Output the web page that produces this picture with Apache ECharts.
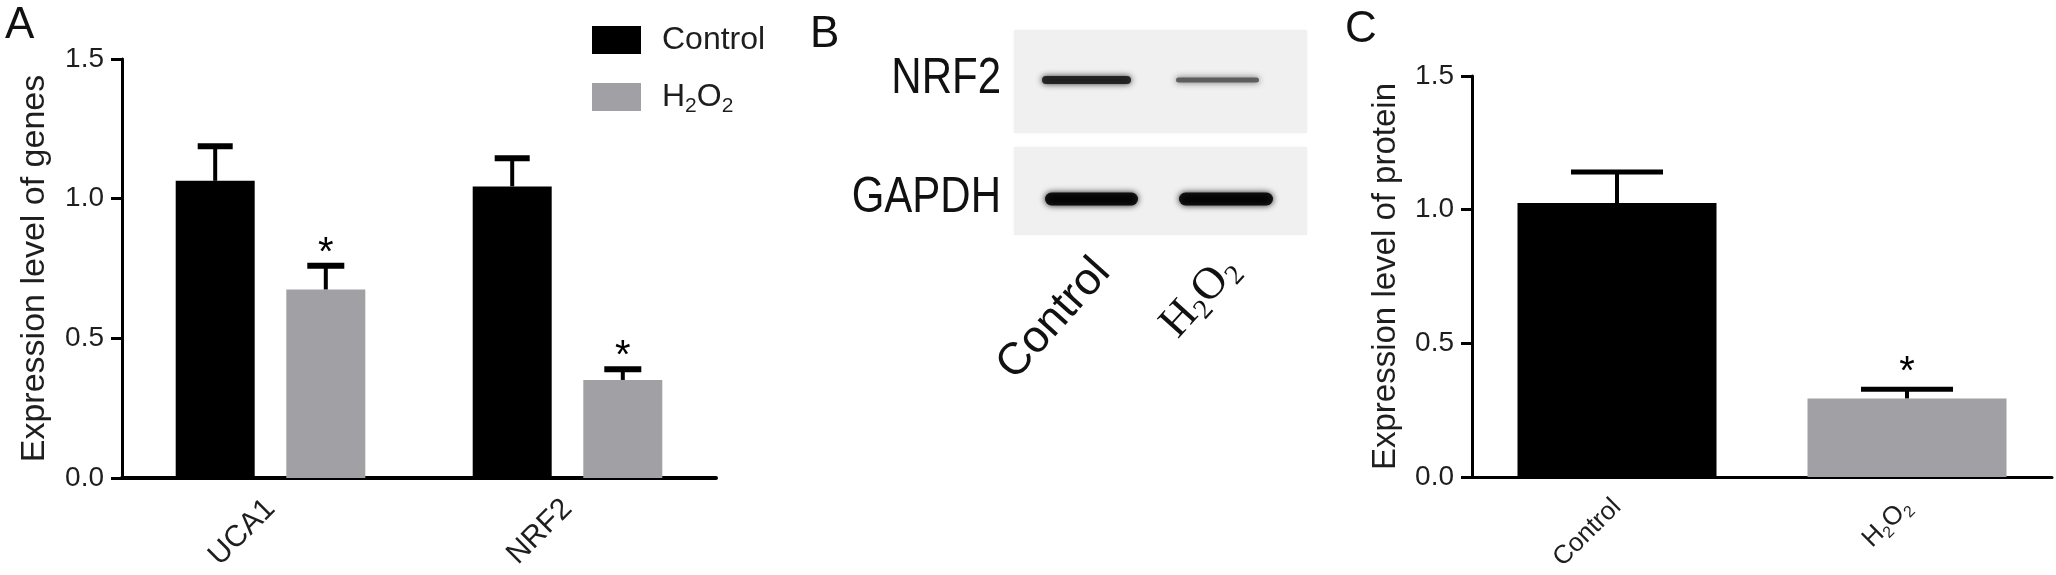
<!DOCTYPE html>
<html><head><meta charset="utf-8">
<script src="https://cdn.jsdelivr.net/npm/echarts@6/dist/echarts.min.js"></script>
<style>html,body{margin:0;padding:0;background:#fff}#c{width:2056px;height:575px}</style>
</head><body><div id="c"></div>
<script>
// ---- data ----
const geneCategories = ['UCA1', 'NRF2'];
const geneControl = [1.064, 1.044];
const geneControlErr = [0.124, 0.101];
const geneControlSig = ['', ''];
const geneH2O2 = [0.675, 0.351];
const geneH2O2Err = [0.085, 0.038];
const geneH2O2Sig = ['*', '*'];

const proteinCategories = ['Control', 'H2O2'];
const proteinValues = [1.025, 0.294];
const proteinErr = [0.116, 0.034];
const proteinSig = ['', '*'];

const yTickInterval = 0.5;
const yMax = 1.5;

const blotTargets = ['NRF2', 'GAPDH'];
const blotLanes = ['Control', 'H2O2'];
const blotIntensity = [[0.85, 0.45], [1.0, 1.0]];

// ---- styles ----
const FONT = "'Liberation Sans', Arial, Helvetica, sans-serif";
const SERIF = "'Liberation Serif', 'Times New Roman', serif";
const BLACK = '#000000';
const GRAY = '#a1a0a5';
const TXT = '#1e1e1e';

const chart = echarts.init(document.getElementById('c'), null, {renderer: 'canvas'});

function h2o2Rich(big, small) {
  return {
    a: {fontSize: big, fontFamily: FONT, color: TXT, lineHeight: big * 1.25},
    b: {fontSize: small, fontFamily: FONT, color: TXT, lineHeight: small, verticalAlign: 'bottom'}
  };
}
function fmtName(n) {
  return n === 'H2O2' ? '{a|H}{b|2}{a|O}{b|2}' : '{a|' + n + '}';
}

function errSeries(name, xi, yi, vals, errs, sigs, offset, capW, lw, capLw, starDy) {
  return {
    type: 'custom', name: name, xAxisIndex: xi, yAxisIndex: yi, z: 5,
    data: vals.map((v, i) => [i, v, errs[i]]),
    renderItem: function (params, api) {
      const i = api.value(0), v = api.value(1), e = api.value(2);
      const base = api.coord([i, v]);
      const top = api.coord([i, v + e]);
      const x = base[0] + offset;
      const ch = [
        {type: 'line', shape: {x1: x, y1: base[1], x2: x, y2: top[1]}, style: {stroke: BLACK, lineWidth: lw}},
        {type: 'line', shape: {x1: x - capW / 2, y1: top[1], x2: x + capW / 2, y2: top[1]}, style: {stroke: BLACK, lineWidth: capLw}}
      ];
      const s = sigs[params.dataIndex];
      if (s) {
        ch.push({type: 'text', style: {text: s, x: x, y: top[1] - starDy, align: 'center', verticalAlign: 'middle',
          fontSize: 40, fontFamily: FONT, fill: BLACK}});
      }
      return {type: 'group', children: ch};
    }
  };
}

function yAxisOpt(gi, name, nameGap, nameSize, lw) {
  return {
    type: 'value', gridIndex: gi, min: 0, max: yMax, interval: yTickInterval,
    name: name, nameLocation: 'middle', nameGap: nameGap, nameRotate: 90,
    nameTextStyle: {fontSize: nameSize, color: TXT, fontFamily: FONT},
    axisLine: {show: true, lineStyle: {color: BLACK, width: lw}},
    axisTick: {show: true, length: 11, lineStyle: {color: BLACK, width: lw}},
    axisLabel: {fontSize: 28, color: TXT, margin: 18, fontFamily: FONT, formatter: v => v.toFixed(1)},
    splitLine: {show: false}
  };
}

// ---- blot graphic (panel B) ----
const blot = [];
const stripY = [[30, 103], [147, 88]];
const bandY = [80, 199];
const bandH = [[8, 5], [13, 13]];
const bandX = [[1039, 1134], [1173, 1262], [1042, 1141], [1176, 1276]];
stripY.forEach((s, r) => {
  blot.push({type: 'rect', shape: {x: 1014, y: s[0], width: 293, height: s[1]},
    style: {fill: '#f0f0f0', shadowBlur: 3, shadowColor: '#f4f4f4'}, z: 1});
});
blotIntensity.forEach((row, r) => {
  row.forEach((k, l) => {
    const bx = bandX[r * 2 + l];
    const h = bandH[r][l];
    const g = Math.round(150 - 150 * k);
    const col = 'rgb(' + g + ',' + g + ',' + g + ')';
    blot.push({type: 'rect', z: 2,
      shape: {x: bx[0] + 3, y: bandY[r] - h / 2, width: bx[1] - bx[0] - 6, height: h, r: h / 2},
      style: {fill: col, shadowBlur: 6, shadowColor: col, opacity: 0.88}});
  });
});
blotTargets.forEach((t, r) => {
  blot.push({type: 'text', x: 1001, y: bandY[r] - 1, z: 3, scaleX: 0.84,
    style: {text: t, align: 'right', verticalAlign: 'middle', fontSize: 50, fontFamily: FONT, fill: '#111'}});
});
blot.push({type: 'text', x: 1054, y: 319, rotation: 48 * Math.PI / 180, z: 3,
  style: {text: blotLanes[0], align: 'center', verticalAlign: 'middle', fontSize: 45, fontFamily: FONT, fill: '#111'}});
blot.push({type: 'text', x: 1200, y: 297, rotation: 48 * Math.PI / 180, z: 3,
  style: {text: '{a|H}{b|2}{a|O}{b|2}', align: 'center', verticalAlign: 'middle',
    rich: {a: {fontSize: 45, fontFamily: SERIF, fill: '#111', lineHeight: 52},
           b: {fontSize: 28, fontFamily: SERIF, fill: '#111', lineHeight: 28, verticalAlign: 'bottom'}}}});

const letters = [
  {t: 'A', x: 5, y: 4}, {t: 'B', x: 810, y: 13}, {t: 'C', x: 1345, y: 8}
].map(o => ({type: 'text', x: o.x, y: o.y, z: 3,
  style: {text: o.t, fontSize: 44, fontFamily: FONT, fill: '#111', align: 'left', verticalAlign: 'top'}}));

const option = {
  backgroundColor: '#ffffff',
  animation: false,
  legend: {
    data: ['Control', 'H2O2'], orient: 'vertical', left: 592, top: 24, padding: 0,
    itemWidth: 49, itemHeight: 28, itemGap: 25, icon: 'rect',
    formatter: fmtName,
    textStyle: {fontSize: 32, color: TXT, fontFamily: FONT, padding: [0, 0, 0, 16], rich: h2o2Rich(32, 21)}
  },
  grid: [
    {left: 122, top: 59, width: 594, height: 419, containLabel: false, outerBoundsMode: 'none'},
    {left: 1472, top: 76, width: 580, height: 401, containLabel: false, outerBoundsMode: 'none'}
  ],
  xAxis: [
    {type: 'category', gridIndex: 0, data: geneCategories,
      axisLine: {lineStyle: {color: BLACK, width: 4}},
      axisTick: {alignWithLabel: true, length: 13, lineStyle: {color: BLACK, width: 3}},
      axisLabel: {rotate: 45, fontSize: 30, margin: 26, color: TXT, fontFamily: FONT}},
    {type: 'category', gridIndex: 1, data: proteinCategories,
      axisLine: {lineStyle: {color: BLACK, width: 3}},
      axisTick: {alignWithLabel: true, length: 12, lineStyle: {color: BLACK, width: 3}},
      axisLabel: {rotate: 45, fontSize: 26, margin: 26, color: TXT, fontFamily: FONT,
        formatter: fmtName, rich: h2o2Rich(26, 16)}}
  ],
  yAxis: [
    yAxisOpt(0, 'Expression level of genes', 70, 34, 3),
    yAxisOpt(1, 'Expression level of protein', 70, 33, 3)
  ],
  graphic: blot.concat(letters),
  series: [
    {type: 'bar', name: 'Control', xAxisIndex: 0, yAxisIndex: 0, data: geneControl,
      barWidth: 79, barGap: '40%', itemStyle: {color: BLACK}},
    {type: 'bar', name: 'H2O2', xAxisIndex: 0, yAxisIndex: 0, data: geneH2O2,
      barWidth: 79, barGap: '40%', itemStyle: {color: GRAY}},
    {type: 'bar', name: 'Protein', xAxisIndex: 1, yAxisIndex: 1, barWidth: 199,
      data: proteinValues.map((v, i) => ({value: v, itemStyle: {color: i === 0 ? BLACK : GRAY}}))},
    errSeries('errCtrl', 0, 0, geneControl, geneControlErr, geneControlSig, -55.3, 35, 4, 6, 12),
    errSeries('errH2O2', 0, 0, geneH2O2, geneH2O2Err, geneH2O2Sig, 55.3, 37, 4, 6, 12),
    errSeries('errProt', 1, 1, proteinValues, proteinErr, proteinSig, 0, 92, 4, 5, 16)
  ]
};
chart.setOption(option);
</script>
</body></html>
